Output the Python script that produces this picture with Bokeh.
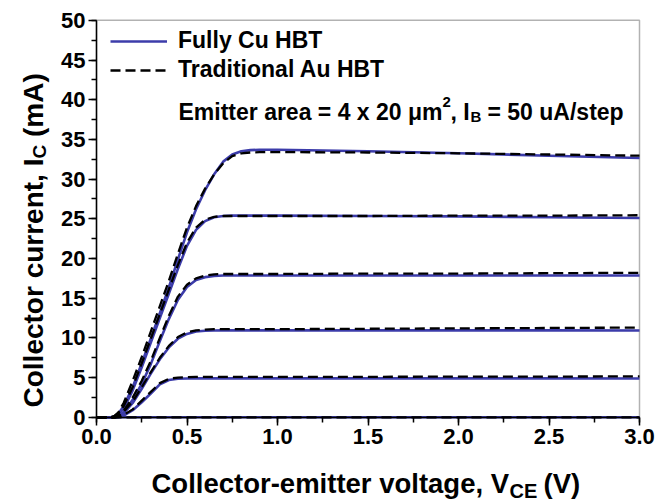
import math
from bokeh.plotting import figure
from bokeh.models import (Range1d, SingleIntervalTicker, NumeralTickFormatter,
                          Label, Legend, LegendItem, BoxAnnotation)
from bokeh.embed import file_html
from bokeh.resources import INLINE

# ---- data ----
# collector-emitter voltage grid (V)
vce = [0.00, 0.08, 0.10, 0.12, 0.15, 0.20, 0.25, 0.30, 0.35, 0.40, 0.45, 0.50, 0.55,
       0.60, 0.65, 0.70, 0.75, 0.80, 0.85, 0.90, 1.00, 1.50, 2.00, 2.50, 3.00]

# Fully Cu HBT, collector current (mA), IB steps of 50 uA
cu_ib0 = [0.0] * 25
cu_ib1 = [0, 0, 0, 0, 0.2, 0.9, 1.9, 3.0, 4.15, 4.7, 4.85, 4.88, 4.9,
          4.9, 4.9, 4.9, 4.9, 4.9, 4.9, 4.9, 4.9, 4.9, 4.9, 4.9, 4.88]
cu_ib2 = [0, 0, 0, 0.05, 0.5, 1.8, 3.6, 5.5, 7.3, 8.8, 9.9, 10.5, 10.8,
          10.9, 10.93, 10.95, 10.95, 10.95, 10.95, 10.95, 10.95, 10.95, 10.95, 10.95, 10.93]
cu_ib3 = [0, 0, 0, 0.1, 0.6, 2.2, 4.2, 6.7, 9.6, 12.4, 14.8, 16.4, 17.3,
          17.65, 17.8, 17.85, 17.85, 17.85, 17.85, 17.85, 17.85, 17.85, 17.85, 17.85, 17.85]
cu_ib4 = [0, 0, 0.05, 0.3, 1.1, 3.4, 6.3, 9.4, 12.5, 15.6, 18.7, 21.6, 23.6,
          24.7, 25.2, 25.35, 25.4, 25.4, 25.4, 25.4, 25.4, 25.35, 25.3, 25.2, 25.1]
cu_ib5 = [0, 0, 0.1, 0.45, 1.4, 3.8, 6.8, 9.9, 13.1, 16.4, 19.9, 23.3, 26.2,
          28.6, 30.6, 32.2, 33.1, 33.5, 33.65, 33.7, 33.7, 33.5, 33.25, 32.95, 32.65]

# Traditional Au HBT
au_ib0 = [0.0] * 25
au_ib1 = [0, 0, 0, 0.05, 0.3, 1.0, 2.1, 3.2, 4.3, 4.85, 5.0, 5.05, 5.08,
          5.1, 5.1, 5.1, 5.1, 5.1, 5.1, 5.1, 5.1, 5.1, 5.12, 5.13, 5.15]
au_ib2 = [0, 0, 0, 0.1, 0.7, 2.0, 3.8, 5.7, 7.5, 9.0, 10.1, 10.7, 10.95,
          11.05, 11.1, 11.1, 11.1, 11.1, 11.1, 11.1, 11.1, 11.15, 11.2, 11.25, 11.3]
au_ib3 = [0, 0, 0, 0.15, 0.8, 2.5, 4.6, 7.1, 10.0, 12.8, 15.2, 16.7, 17.5,
          17.85, 18.0, 18.05, 18.05, 18.05, 18.05, 18.05, 18.05, 18.1, 18.1, 18.15, 18.2]
au_ib4 = [0, 0, 0.1, 0.45, 1.4, 3.8, 6.8, 9.9, 13.0, 16.1, 19.2, 22.0, 23.9,
          24.9, 25.25, 25.35, 25.35, 25.35, 25.35, 25.35, 25.35, 25.35, 25.4, 25.4, 25.45]
au_ib5 = [0, 0, 0.2, 0.6, 1.8, 4.6, 7.6, 10.8, 14.0, 17.2, 20.6, 23.9, 26.6,
          28.8, 30.6, 32.0, 32.9, 33.25, 33.35, 33.4, 33.4, 33.35, 33.25, 33.1, 32.95]

cu_curves = [cu_ib0, cu_ib1, cu_ib2, cu_ib3, cu_ib4, cu_ib5]
au_curves = [au_ib0, au_ib1, au_ib2, au_ib3, au_ib4, au_ib5]

series_names = ["Fully Cu HBT", "Traditional Au HBT"]
x_axis_min, x_axis_max, x_tick_step = 0.0, 3.0, 0.5
y_axis_min, y_axis_max, y_tick_step = 0.0, 50.0, 5.0

BLUE = "#3c3caa"
FONT = "Liberation Sans"

W, H = 656, 504
# plot box inside the canvas (pixels)
box_left, box_right, box_top, box_bottom = 96.0, 639.0, 19.8, 416.8
sx = (box_right - box_left) / (x_axis_max - x_axis_min)
sy = (box_bottom - box_top) / (y_axis_max - y_axis_min)
xr = Range1d(x_axis_min - box_left / sx, x_axis_max + (W - box_right) / sx)
yr = Range1d(y_axis_min - (H - box_bottom) / sy, y_axis_max + box_top / sy)

p = figure(width=W, height=H, output_backend="svg", toolbar_location=None,
           x_range=xr, y_range=yr, min_border=0)
p.xgrid.visible = False
p.ygrid.visible = False
p.outline_line_color = None
p.background_fill_color = "white"
p.border_fill_color = "white"

p.xaxis.ticker = SingleIntervalTicker(interval=x_tick_step, num_minor_ticks=2)
p.xaxis.formatter = NumeralTickFormatter(format="0.0")
p.yaxis.ticker = SingleIntervalTicker(interval=y_tick_step, num_minor_ticks=2)
p.xaxis.fixed_location = y_axis_min
p.yaxis.fixed_location = x_axis_min
p.xaxis.bounds = (x_axis_min, x_axis_max)
p.yaxis.bounds = (y_axis_min, y_axis_max)
for ax in (p.xaxis, p.yaxis):
    ax.major_label_text_font = FONT
    ax.major_label_text_font_style = "bold"
    ax.major_label_text_font_size = "22px"
    ax.major_label_text_color = "black"
    ax.major_tick_out = 8
    ax.major_tick_in = 0
    ax.minor_tick_out = 5
    ax.minor_tick_in = 0
    ax.major_tick_line_width = 1.5
    ax.minor_tick_line_width = 1.5
    ax.major_tick_line_color = "black"
    ax.minor_tick_line_color = "black"
    ax.axis_line_width = 1.5
    ax.axis_line_color = "black"
p.xaxis.major_label_standoff = 4
p.yaxis.major_label_standoff = 3

# plot box
p.add_layout(BoxAnnotation(left=x_axis_min, right=x_axis_max, bottom=y_axis_min,
                           top=y_axis_max, fill_alpha=0, line_color="black",
                           line_width=1.5, level="underlay"))

cu_renderers = []
for ys in cu_curves:
    r = p.line(vce, ys, line_color=BLUE, line_width=2.6, line_join="round")
    cu_renderers.append(r)
au_renderers = []
for ys in au_curves:
    r = p.line(vce, ys, line_color="black", line_width=2.3, line_dash="10 5")
    au_renderers.append(r)

legend = Legend(items=[LegendItem(label=series_names[0], renderers=[cu_renderers[1]]),
                       LegendItem(label=series_names[1], renderers=[au_renderers[1]])],
                location=(110, 421), background_fill_alpha=0, border_line_alpha=0,
                padding=0, margin=0, spacing=2, glyph_width=57, glyph_height=24,
                label_height=24, label_standoff=11, label_text_font=FONT,
                label_text_font_style="bold", label_text_font_size="23px",
                label_text_color="black")
p.add_layout(legend)


def lab(x, y, text, size, angle=0.0):
    # x, y: canvas pixels measured from the left / bottom edge
    p.add_layout(Label(x=x, y=y, x_units="screen", y_units="screen", text=text,
                       angle=angle, text_font=FONT, text_font_style="bold",
                       text_font_size=size, text_color="black",
                       text_align="left", text_baseline="alphabetic"))


# annotation "Emitter area = 4 x 20 µm², I_B = 50 uA/step"
lab(178, 393, "Emitter area = 4 x 20 \u03bcm", "23px")
lab(442, 403, "2", "15px")
lab(450, 393, ", I", "23px")
lab(470, 388, "B", "15px")
lab(487, 393, "= 50 uA/step", "23px")

# x axis label
lab(151, 21, "Collector-emitter voltage, V", "27.5px")
lab(509, 14, "CE", "20px")
lab(543, 21, "(V)", "27.5px")

# y axis label (rotated)
a = math.pi / 2
lab(33, 97, "Collector current, I", "28px", a)
lab(39, 346, "C", "19px", a)
lab(33, 367.5, "(mA)", "28px", a)

open("out.html", "w").write(file_html(p, INLINE))
